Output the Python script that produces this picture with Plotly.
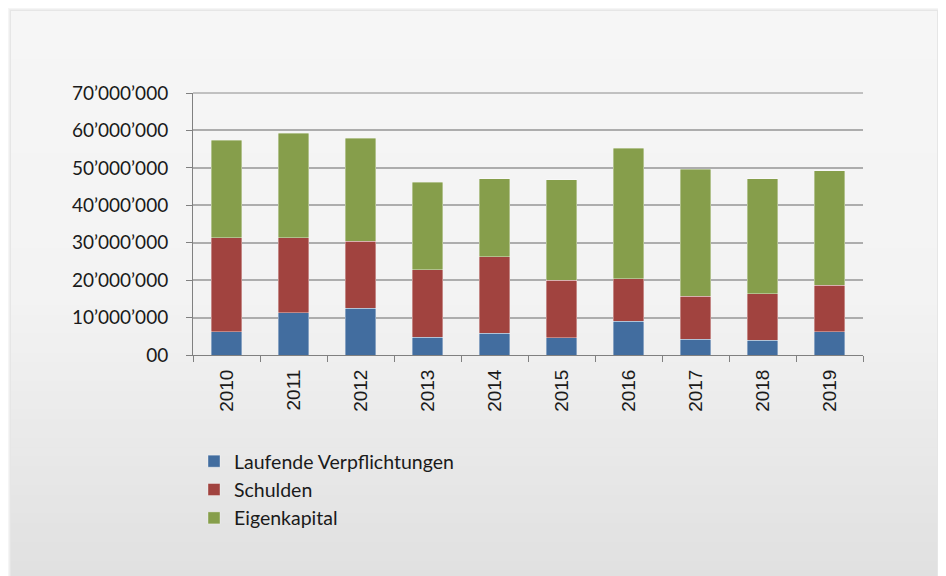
import plotly.graph_objects as go

years = ["2010", "2011", "2012", "2013", "2014", "2015", "2016", "2017", "2018", "2019"]
laufende = [6.2e6, 11.3e6, 12.5e6, 4.7e6, 5.8e6, 4.6e6, 9.0e6, 4.2e6, 3.9e6, 6.2e6]
schulden = [25.1e6, 20.0e6, 17.9e6, 18.1e6, 20.5e6, 15.4e6, 11.4e6, 11.5e6, 12.5e6, 12.5e6]
eigenkapital = [26.1e6, 28.0e6, 27.5e6, 23.4e6, 20.8e6, 26.8e6, 34.8e6, 33.9e6, 30.7e6, 30.5e6]

series_names = ["Laufende Verpflichtungen", "Schulden", "Eigenkapital"]
series_colors = ["#426D9F", "#A1433F", "#869E4B"]

y_tickvals = [0, 10e6, 20e6, 30e6, 40e6, 50e6, 60e6, 70e6]
y_ticktext = ["00", "10’000’000", "20’000’000", "30’000’000", "40’000’000",
              "50’000’000", "60’000’000", "70’000’000"]

# page body has an 8px margin; figure coordinates = screen coordinates - 8
OFF = 8
W, H = 946 - OFF, 576 - OFF
ML, MR, MT, MB = 193 - OFF, (946 - OFF) - (863 - OFF), 93 - OFF, (576 - OFF) - (355 - OFF)
PW, PH = W - ML - MR, H - MT - MB


def px2x(px):
    return (px - OFF - ML) / PW


def py2y(py):
    return (H - MB - (py - OFF)) / PH


fig = go.Figure()
for name, vals, col in zip(series_names, [laufende, schulden, eigenkapital], series_colors):
    fig.add_trace(go.Bar(
        x=years, y=vals, name=name,
        marker=dict(color=col, line=dict(color="rgba(255,255,255,0.45)", width=0.8)),
        legendgroup=name,
    ))

shapes = []
# soft card shadow
for off, col in [(4, "#FAFAFA"), (3, "#F5F5F5"), (2, "#EEEEEE"), (1, "#E6E6E6")]:
    shapes.append(dict(type="rect", xref="paper", yref="paper", layer="below",
                       x0=px2x(11 - off), x1=px2x(937 + off),
                       y0=py2y(11 - off), y1=py2y(590),
                       line=dict(width=0), fillcolor=col))
# card gradient
top, bottom = 11, 580
n = 60


def lerp(a, b, t):
    return a + (b - a) * t


for i in range(n):
    y0p = top + (bottom - top) * i / n
    y1p = top + (bottom - top) * (i + 1) / n + 0.6
    t = (i + 0.5) / n
    if t < 0.5:
        v = lerp(0xF6, 0xF3, t / 0.5)
    else:
        v = lerp(0xF3, 0xE0, (t - 0.5) / 0.5)
    v = int(round(v))
    shapes.append(dict(type="rect", xref="paper", yref="paper", layer="below",
                       x0=px2x(11), x1=px2x(937), y0=py2y(y0p), y1=py2y(y1p),
                       line=dict(width=0), fillcolor=f"rgb({v},{v},{v})"))
# darker top border line of plot area
shapes.append(dict(type="line", xref="paper", yref="paper", layer="above",
                   x0=0, x1=1, y0=1, y1=1, line=dict(color="#8C8C8C", width=1)))

fig.update_layout(
    width=W, height=H,
    margin=dict(l=ML, r=MR, t=MT, b=MB, autoexpand=False),
    barmode="stack",
    bargap=0.55,
    paper_bgcolor="white",
    plot_bgcolor="rgba(0,0,0,0)",
    shapes=shapes,
    font=dict(family="Lato, sans-serif", size=19, color="#1A1A1A"),
    showlegend=True,
    legend=dict(
        x=px2x(194), y=py2y(442), xanchor="left", yanchor="top",
        traceorder="normal", orientation="v",
        bgcolor="rgba(0,0,0,0)", borderwidth=0,
        font=dict(family="Lato, sans-serif", size=19.5, color="#1A1A1A"),
        tracegroupgap=0,
    ),
    xaxis=dict(
        type="category",
        tickangle=-90,
        ticks="outside", ticklen=6, tickcolor="#808080", tickson="boundaries",
        showline=True, linecolor="#808080", linewidth=1,
        showgrid=False,
        tickfont=dict(family="Liberation Sans, Arial, sans-serif", size=19, color="#1A1A1A"),
        ticklabelstandoff=6,
    ),
    yaxis=dict(
        range=[0, 70e6],
        tickvals=y_tickvals, ticktext=y_ticktext,
        ticks="outside", ticklen=6, tickcolor="#808080",
        showline=True, linecolor="#808080", linewidth=1,
        showgrid=True, gridcolor="#ADADAD", gridwidth=1.5,
        zeroline=False,
        tickfont=dict(family="Lato, sans-serif", size=19, color="#1A1A1A"),
        ticklabelstandoff=14,
    ),
)

fig.write_html("out.html")
